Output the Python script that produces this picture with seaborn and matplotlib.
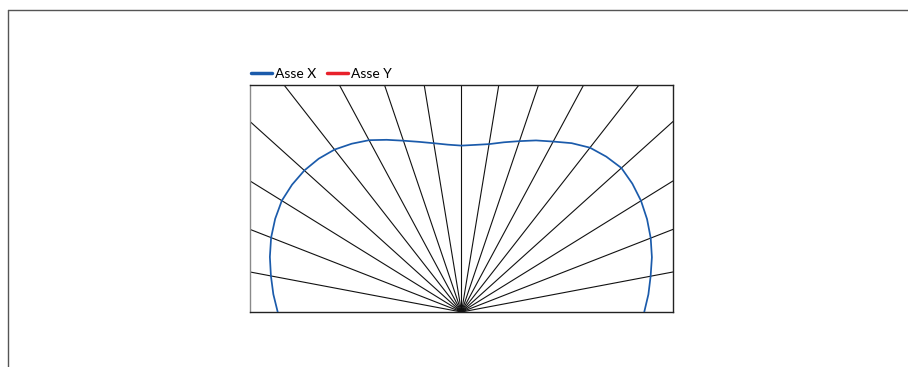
import numpy as np
import pandas as pd
import matplotlib.pyplot as plt
from matplotlib.lines import Line2D
import seaborn as sns

# photometric curve, angle from vertical (deg) and relative intensity
angles = [-90, -85, -80, -75, -70, -65, -60, -55, -50, -45, -40, -35, -30, -25, -20, -15, -10, -5,
          0, 5, 10, 15, 20, 25, 30, 35, 40, 45, 50, 55, 60, 65, 70, 75, 80, 85, 90]
asse_x = [0.869, 0.893, 0.915, 0.938, 0.958, 0.972, 0.981, 0.978, 0.970, 0.955, 0.934, 0.905,
          0.874, 0.837, 0.803, 0.776, 0.755, 0.740,
          0.733, 0.739, 0.751, 0.774, 0.801, 0.834, 0.867, 0.908,
          0.945, 0.968, 0.987, 0.986, 0.980, 0.968, 0.952, 0.932, 0.908, 0.887, 0.864]
ray_angles = list(range(-80, 90, 10))
legend_labels = ["Asse X", "Asse Y"]
colors = ["#1b5bab", "#e8212b"]

sns.set_style("white")
plt.rcParams["font.family"] = ["Lato", "DejaVu Sans"]
plt.rcParams["text.color"] = "black"

fig = plt.figure(figsize=(9.08, 3.67), dpi=100)
ax = fig.add_axes([250 / 908, 1 - 312 / 367, 423 / 908, 227 / 367])

# radial grid lines out to the box edges
for a in ray_angles:
    t = np.radians(a)
    s, c = np.sin(t), np.cos(t)
    k = min(1 / abs(s) if s != 0 else np.inf, 1 / c)
    ax.plot([0, k * s], [0, k * c], color="#111111", lw=0.8, zorder=1)

th = np.radians(angles)
df = pd.DataFrame({"x": np.array(asse_x) * np.sin(th), "y": np.array(asse_x) * np.cos(th)})
sns.lineplot(data=df, x="x", y="y", sort=False, color=colors[0], lw=1.25, ax=ax, zorder=3)

ax.set_xlim(-1, 1)
ax.set_ylim(0, 1)
ax.set_xticks([])
ax.set_yticks([])
ax.set_xlabel("")
ax.set_ylabel("")
for side, sp in ax.spines.items():
    sp.set_color("#222222")
    sp.set_linewidth(1.0)
ax.spines["left"].set_color("#8a8a8a")

handles = [Line2D([], [], color=c, lw=2.5) for c in colors]
leg = ax.legend(handles, legend_labels, loc="lower left", bbox_to_anchor=(-0.008, 1.0), ncol=2,
                frameon=False, handlelength=1.5, handletextpad=0.2, columnspacing=0.8,
                borderpad=0.0, borderaxespad=0.35, fontsize=10)
for t in leg.get_texts():
    t.set_color("black")

# outer frame (top and left)
fig.add_artist(Line2D([8 / 908, 1], [1 - 10 / 367, 1 - 10 / 367], color="#555555", lw=1.0))
fig.add_artist(Line2D([8 / 908, 8 / 908], [0, 1 - 10 / 367], color="#555555", lw=1.0))

fig.savefig("out.png", dpi=100)
